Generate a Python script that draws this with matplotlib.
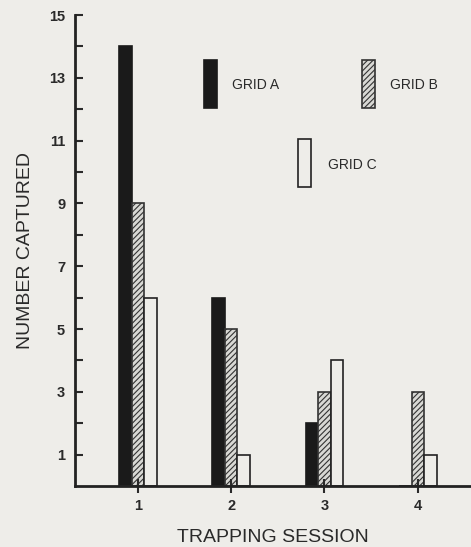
import numpy as np
import matplotlib.pyplot as plt
from matplotlib.patches import Rectangle

sessions = [1, 2, 3, 4]
grid_a = [14, 6, 2, 0]
grid_b = [9, 5, 3, 3]
grid_c = [6, 1, 4, 1]
grid_names = ["GRID A", "GRID B", "GRID C"]
y_major = [1, 3, 5, 7, 9, 11, 13, 15]

bg = "#eeede9"
ink = "#2a2a2a"
plt.rcParams['font.family'] = ['Liberation Sans', 'DejaVu Sans']
plt.rcParams['hatch.linewidth'] = 0.8

fig = plt.figure(figsize=(4.71, 5.47), dpi=100, facecolor=bg)
ax = fig.add_axes([0.159, 0.1115, 0.841, 0.861], facecolor=bg)

x = np.array(sessions)
w = 0.134
styles = [
    dict(facecolor="#1a1a1a", edgecolor="#1a1a1a"),
    dict(facecolor="#d8d8d4", edgecolor="#333333", hatch="//////"),
    dict(facecolor=bg, edgecolor="#222222"),
]
for i, vals in enumerate([grid_a, grid_b, grid_c]):
    ax.bar(x + (i - 1) * w, vals, width=w, linewidth=1.2, **styles[i])

ax.set_xlim(0.325, 4.57)
ax.set_ylim(0, 15)
ax.set_yticks(y_major)
ax.set_yticks(range(2, 15, 2), minor=True)
ax.set_xticks(sessions)
ax.tick_params(axis='y', which='both', direction='in', length=6, width=1.5,
               labelsize=10.5, pad=7, colors=ink)
ax.tick_params(axis='x', direction='inout', length=10, width=1.5,
               labelsize=10.5, pad=4, colors=ink)
for lab in ax.get_xticklabels() + ax.get_yticklabels():
    lab.set_fontweight('bold')

for s in ['top', 'right']:
    ax.spines[s].set_visible(False)
for s in ['left', 'bottom']:
    ax.spines[s].set_linewidth(2)
    ax.spines[s].set_color("#222222")

ax.set_ylabel("NUMBER CAPTURED", fontsize=14, color=ink, labelpad=11)
ax.set_xlabel("TRAPPING SESSION", fontsize=14, color=ink, labelpad=12)

# legend drawn by hand, in axes fraction
leg_pos = [(0.326, 0.803, 0.396, 0.851),
           (0.725, 0.803, 0.795, 0.851),
           (0.563, 0.635, 0.639, 0.682)]
for i, (px, py, tx, ty) in enumerate(leg_pos):
    ax.add_patch(Rectangle((px, py), 0.033, 0.102, transform=ax.transAxes,
                           linewidth=1.2, **styles[i]))
    ax.text(tx, ty, grid_names[i], transform=ax.transAxes, fontsize=10,
            va='center', ha='left', color=ink)

fig.savefig("out.png", dpi=100, facecolor=bg)
